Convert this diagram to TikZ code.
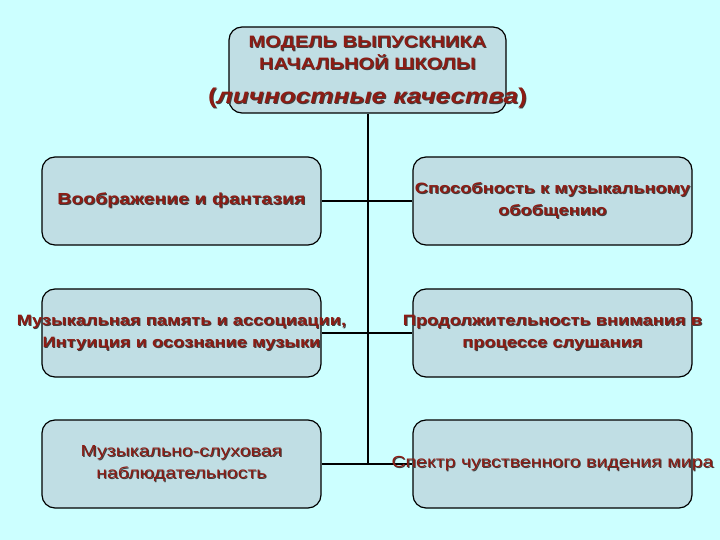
\documentclass[tikz,border=0pt]{standalone}
\usepackage{fontspec}
\setmainfont{Liberation Sans}[FakeStretch=1.22]
\usetikzlibrary{backgrounds}
\definecolor{bgcol}{RGB}{204,255,255}
\definecolor{boxfill}{RGB}{192,222,228}
\definecolor{txt}{RGB}{140,28,20}
\newcommand\sh[1]{\makebox[0pt]{\rlap{\kern0.9bp\raisebox{-0.9bp}{\color{black!75}#1}}#1}}
\begin{document}
\begin{tikzpicture}[x=1bp,y=-1bp,
  box/.style={draw=black,line width=1.2bp,fill=boxfill,rounded corners=13bp,
    minimum width=279bp,minimum height=88bp,inner sep=0pt,align=center,text=txt},
  bigtxt/.style={font=\fontsize{16bp}{23bp}\selectfont\bfseries},
  boldtxt/.style={font=\fontsize{15bp}{22bp}\selectfont\bfseries},
  plaintxt/.style={font=\fontsize{16bp}{22bp}\selectfont},
  link/.style={line width=2bp,draw=black}]
\useasboundingbox (0,0) rectangle (720,540);
% title
\node[box,minimum width=277bp,minimum height=86bp,font=\fontsize{16.5bp}{22bp}\selectfont\bfseries]
  (top) at (367.5,70) {};
\node[text=txt,align=center,inner sep=0pt,font=\fontsize{16.5bp}{22bp}\selectfont\bfseries]
  (ttl) at (367.5,72.5) {\sh{МОДЕЛЬ ВЫПУСКНИКА}\\\sh{НАЧАЛЬНОЙ ШКОЛЫ}\\[12bp]
  {\fontsize{21.4bp}{24bp}\selectfont\sh{(\textit{личностные качества})}}};
% left column
\node[box,bigtxt] (l1) at (181.5,201) {\sh{Воображение и фантазия}};
\node[box,boldtxt] (l2) at (181.5,333) {\sh{Музыкальная память и ассоциации,}\\\sh{Интуиция и осознание музыки}};
\node[box,plaintxt] (l3) at (181.5,464) {\sh{Музыкально-слуховая}\\\sh{наблюдательность}};
% right column
\node[box,boldtxt] (r1) at (552.5,201) {\sh{Способность к музыкальному}\\\sh{обобщению}};
\node[box,boldtxt] (r2) at (552.5,333) {\sh{Продолжительность внимания в}\\\sh{процессе слушания}};
\node[box,plaintxt] (r3) at (552.5,464) {\sh{Спектр чувственного видения мира}};
\begin{pgfonlayer}{background}
  \fill[bgcol] (0,0) rectangle (720,540);
  \coordinate (j3) at (top.south |- l3.east);
  \draw[link] (top.south) -- (j3);
  \draw[link] (l1.east) -- (r1.west);
  \draw[link] (l2.east) -- (r2.west);
  \draw[link] (l3.east) -- (r3.west);
\end{pgfonlayer}
\end{tikzpicture}
\end{document}
